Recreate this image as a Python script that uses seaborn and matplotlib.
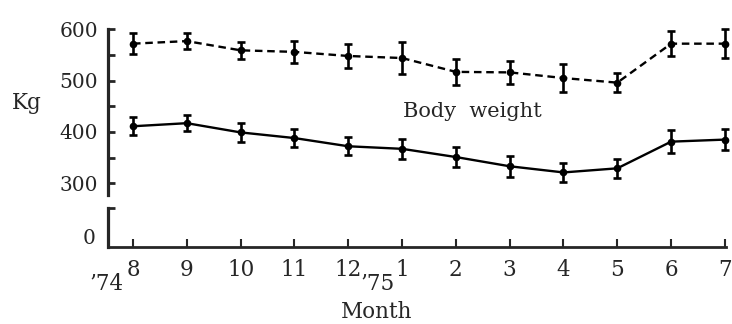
import numpy as np
import pandas as pd
import matplotlib
matplotlib.use("Agg")
import matplotlib.pyplot as plt
import seaborn as sns

# ---- data ----
months = ["8", "9", "10", "11", "12", "1", "2", "3", "4", "5", "6", "7"]
upper_vals = [572, 577, 559, 556, 548, 544, 517, 516, 505, 496, 572, 572]
upper_err = [20, 16, 16, 21, 23, 31, 26, 23, 27, 19, 24, 28]
lower_vals = [411, 417, 399, 388, 372, 367, 351, 333, 321, 329, 381, 385]
lower_err = [18, 16, 19, 18, 18, 19, 20, 20, 18, 18, 23, 20]
y_major = [300, 400, 500, 600]
y_minor = [350, 450, 550]

sns.set_theme(style="white")
plt.rcParams["font.family"] = ["DejaVu Serif"]

W, H = 732, 324
fig = plt.figure(figsize=(W / 100, H / 100), dpi=100)

def frac_box(x0, x1, ytop, ybot):
    return [x0 / W, 1 - ybot / H, (x1 - x0) / W, (ybot - ytop) / H]

ax = fig.add_axes(frac_box(108, 726, 29.3, 195))
axb = fig.add_axes(frac_box(108, 726, 208, 247))

x = np.arange(len(months))
df = pd.DataFrame({"x": x, "upper": upper_vals, "lower": lower_vals})

lw = 1.7
sns.lineplot(data=df, x="x", y="upper", ax=ax, color="black", lw=lw,
             linestyle=(0, (3.2, 2.0)), marker="o", markersize=5.5,
             markeredgewidth=0, clip_on=False)
sns.lineplot(data=df, x="x", y="lower", ax=ax, color="black", lw=lw,
             marker="o", markersize=5.5, markeredgewidth=0, clip_on=False)
for vals, errs in ((upper_vals, upper_err), (lower_vals, lower_err)):
    eb = ax.errorbar(x, vals, yerr=errs, fmt="none", ecolor="black",
                     elinewidth=1.9, capsize=2.8, capthick=1.9)
    for art in eb.lines[1]:
        art.set_clip_on(False)
    for art in eb.lines[2]:
        art.set_clip_on(False)

xl = ((108 - 133) / 53.82, 11.02)
ax.set_xlim(*xl)
ax.set_ylim(277, 600)
axb.set_xlim(*xl)
axb.set_ylim(-11, 28)

# upper axis styling
for s in ["top", "right", "bottom"]:
    ax.spines[s].set_visible(False)
ax.spines["left"].set_linewidth(2.3)
ax.set_xticks([])
ax.set_yticks(y_major)
ax.set_yticks(y_minor, minor=True)
ax.set_yticklabels([str(v) for v in y_major])
ax.tick_params(axis="y", which="both", direction="in", length=5, width=2,
               pad=7, labelsize=14.5, left=True)
ax.set_xlabel("")
ax.set_ylabel("")

# lower axis styling
for s in ["top", "right"]:
    axb.spines[s].set_visible(False)
axb.spines["left"].set_linewidth(2.3)
axb.spines["bottom"].set_linewidth(2.0)
axb.set_yticks([0])
axb.set_yticklabels(["0"])
axb.set_yticks([28], minor=True)
axb.tick_params(axis="y", which="major", length=0, pad=9, labelsize=14.5, left=True)
axb.tick_params(axis="y", which="minor", direction="in", length=5, width=2, left=True)
axb.set_xticks(x)
axb.set_xticklabels(months)
axb.tick_params(axis="x", direction="in", length=6, width=1.5, pad=9,
                labelsize=15.5, bottom=True)
axb.set_xlabel("")

# texts
fig.text(27 / W, 1 - 103 / H, "Kg", ha="center", va="center", fontsize=15.5)
fig.text(106 / W, 1 - 284 / H, "\u201974", ha="center", va="center", fontsize=15.5)
fig.text(378 / W, 1 - 284 / H, "\u201975", ha="center", va="center", fontsize=15.5)
fig.text(377 / W, 1 - 312 / H, "Month", ha="center", va="center", fontsize=15.5)
ax.text(6.3, 440, "Body  weight", ha="center", va="center", fontsize=15)

fig.savefig("out.png", dpi=100)
